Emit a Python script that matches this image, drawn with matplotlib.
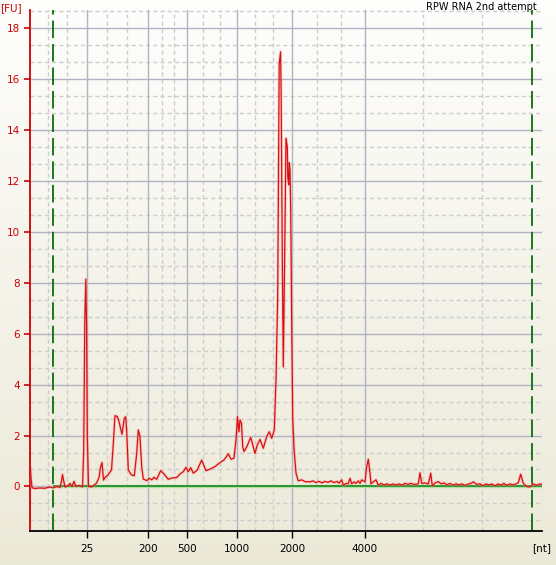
import numpy as np
import matplotlib
matplotlib.use("Agg")
import matplotlib.pyplot as plt

plt.rcParams['lines.scale_dashes'] = False

# electropherogram trace: migration time [s] and fluorescence [FU]
time_s = [16.96, 17.03, 17.10, 17.20, 17.5, 18.0, 18.5, 19.0, 19.3, 19.7, 20.0, 20.15,
          20.25, 20.35, 20.5, 20.8, 21.0, 21.2, 21.4, 21.6, 21.9, 22.25, 22.37, 22.48,
          22.58, 22.66, 22.73, 22.85, 23.15, 23.4, 23.65, 23.9, 24.05, 24.2, 24.35, 24.5,
          24.8, 25.15, 25.3, 25.5, 25.73, 25.9, 26.2, 26.43, 26.57, 26.67, 26.83, 27.15,
          27.43, 27.67, 27.83, 28.0, 28.17, 28.33, 28.67, 28.93, 29.17, 29.4, 29.67, 30.07,
          30.4, 30.83, 31.17, 31.67, 32.0, 32.33, 32.6, 32.83, 33.07, 33.33, 33.73, 34.17,
          34.6, 35.0, 35.5, 36.0, 36.4, 36.83, 37.1, 37.4, 37.6, 37.75, 37.9, 38.0,
          38.15, 38.27, 38.4, 38.67, 39.07, 39.33, 39.5, 39.73, 40.0, 40.33, 40.67, 40.93,
          41.17, 41.43, 41.6, 41.77, 41.92, 42.06, 42.12, 42.23, 42.33, 42.45, 42.6, 42.73,
          42.78, 42.87, 42.93, 43.0, 43.07, 43.17, 43.27, 43.4, 43.6, 43.83, 44.17, 44.5,
          45.0, 45.3, 45.6, 45.9, 46.2, 46.5, 46.8, 47.1, 47.4, 47.7, 47.9, 48.17,
          48.33, 48.6, 48.8, 49.0, 49.17, 49.4, 49.6, 49.83, 50.0, 50.17, 50.5, 50.67,
          50.83, 51.0, 51.1, 51.33, 51.6, 51.83, 52.1, 52.4, 52.7, 53.0, 53.3, 53.6,
          53.9, 54.2, 54.5, 54.8, 55.1, 55.4, 55.83, 56.0, 56.17, 56.5, 56.83, 57.07,
          57.23, 57.5, 57.83, 58.1, 58.4, 58.7, 59.0, 59.3, 59.6, 59.9, 60.2, 60.5,
          60.8, 61.1, 61.33, 61.67, 62.0, 62.3, 62.6, 62.9, 63.2, 63.5, 63.8, 64.1,
          64.4, 64.7, 65.0, 65.3, 65.6, 65.83, 66.07, 66.33, 66.67, 67.0, 67.33, 67.67,
          68.0, 68.2]
fu = [0.75, 0.80, 0.35, -0.05, -0.08, -0.06, -0.07, -0.02, -0.06, 0.0, -0.04, 0.2,
      0.47, 0.25, -0.02, 0.02, 0.12, 0.0, 0.2, 0.0, 0.04, -0.02, 1.4, 6.5,
      8.15, 6.2, 2.0, 0.0, -0.02, 0.05, 0.13, 0.35, 0.75, 0.94, 0.25, 0.35,
      0.45, 0.65, 1.5, 2.78, 2.75, 2.55, 2.05, 2.68, 2.74, 2.15, 0.65, 0.45,
      0.42, 1.3, 2.22, 1.96, 0.78, 0.29, 0.23, 0.32, 0.26, 0.36, 0.28, 0.62,
      0.49, 0.28, 0.33, 0.35, 0.49, 0.58, 0.75, 0.58, 0.74, 0.52, 0.65, 1.04,
      0.62, 0.68, 0.78, 0.94, 1.04, 1.28, 1.07, 1.11, 1.83, 2.74, 2.15, 2.61,
      2.48, 1.56, 1.37, 1.55, 1.93, 1.56, 1.30, 1.63, 1.85, 1.50, 1.96, 2.15,
      1.89, 2.22, 4.18, 7.46, 16.6, 17.08, 15.2, 9.0, 4.7, 8.5, 13.68, 13.35,
      12.17, 11.85, 12.72, 12.44, 11.0, 6.41, 2.74, 1.50, 0.52, 0.22, 0.26, 0.19,
      0.18, 0.22, 0.15, 0.2, 0.14, 0.2, 0.16, 0.22, 0.15, 0.2, 0.13, 0.26,
      0.05, 0.12, 0.1, 0.32, 0.1, 0.18, 0.12, 0.22, 0.12, 0.26, 0.18, 0.78,
      1.07, 0.52, 0.1, 0.18, 0.26, 0.05, 0.12, 0.06, 0.1, 0.05, 0.1, 0.06,
      0.1, 0.05, 0.12, 0.08, 0.12, 0.08, 0.1, 0.54, 0.12, 0.14, 0.1, 0.52,
      0.02, 0.14, 0.19, 0.1, 0.14, 0.06, 0.12, 0.05, 0.1, 0.06, 0.1, 0.04,
      0.09, 0.12, 0.18, 0.08, 0.1, 0.03, 0.1, 0.06, 0.1, 0.02, 0.1, 0.05,
      0.12, 0.04, 0.1, 0.06, 0.1, 0.15, 0.48, 0.12, 0.0, -0.02, 0.1, 0.05,
      0.1, 0.08]

# ladder sizes and their migration times
size_labels = ['25', '200', '500', '1000', '2000', '4000']
size_times = [22.65, 28.8, 32.7, 37.7, 43.2, 50.45]
minor_times = [18.8, 20.7, 24.7, 26.7, 30.2, 31.4, 34.3, 36.0, 39.5, 41.3, 45.7, 48.1, 56.3, 62.2]
marker_times = [19.33, 67.2]   # lower / upper alignment markers

fig = plt.figure(figsize=(5.56, 5.65), dpi=100)

# background gradient over whole figure
bg = fig.add_axes([0, 0, 1, 1], zorder=-10)
grad = np.linspace(0, 1, 256).reshape(-1, 1)
top = np.array([0.995, 0.995, 0.99])
bot = np.array([0.925, 0.914, 0.847])
img = top[None, None, :] * (1 - grad[:, :, None]) + bot[None, None, :] * grad[:, :, None]
bg.imshow(img, aspect='auto', extent=[0, 1, 0, 1])
bg.axis('off')

ax = fig.add_axes([29.5 / 556, 34 / 565, (542 - 29.5) / 556, (531 - 10) / 565])
ax.patch.set_alpha(0)
ax.set_xlim(16.95, 68.2)
ax.set_ylim(-1.75, 18.72)

# grid
for v in minor_times:
    ax.axvline(v, color='#cdcdcd', lw=1, ls=(0, (3, 2.2)), zorder=1)
for k in range(-2, 29):
    if k % 3:
        ax.axhline(k * 2 / 3, color='#cdcdcd', lw=1, ls=(0, (3, 2.2)), zorder=1)
for v in size_times:
    ax.axvline(v, color='#b0b4c2', lw=1, zorder=1.5)
for v in range(0, 19, 2):
    ax.axhline(v, color='#b0b4c2', lw=1, zorder=1.5)

# markers & baseline
for m in marker_times:
    ax.axvline(m, color='#0a6e0a', lw=1.3, ls=(0, (12.6, 4.3)), zorder=2)
ax.plot([marker_times[0], 68.2], [0, 0], color='#a6e6a0', lw=2.4, zorder=2, solid_capstyle='butt')
ax.plot([marker_times[0], 68.2], [0, 0], color='#157a15', lw=1.1, zorder=2.1, solid_capstyle='butt')

# trace
ax.plot(time_s, fu, color='#ff9a9a', lw=2.2, alpha=0.4, zorder=3)
ax.plot(time_s, fu, color='#d81010', lw=0.9, zorder=3.1)

for s in ['top', 'right']:
    ax.spines[s].set_visible(False)
ax.spines['left'].set_color('#cc0000')
ax.spines['left'].set_linewidth(1.3)
ax.spines['bottom'].set_color('black')
ax.spines['bottom'].set_linewidth(1.3)

ax.set_yticks(range(0, 19, 2))
ax.tick_params(axis='y', colors='#cc0000', length=4, width=1.2, labelsize=7.5, pad=3)
ax.set_xticks(size_times)
ax.set_xticklabels(size_labels)
ax.tick_params(axis='x', colors='black', length=5, width=1, labelsize=7.5, pad=4)

fig.text(0, 1 - 8 / 565, '[FU]', color='#cc0000', fontsize=7.5, ha='left', va='center')
fig.text(551 / 556, 1 - 548 / 565, '[nt]', color='black', fontsize=7.5, ha='right', va='center')
fig.text(537 / 556, 1 - 7 / 565, 'RPW RNA 2nd attempt', color='black', fontsize=7, ha='right', va='center')

fig.savefig('out.png', dpi=100)
